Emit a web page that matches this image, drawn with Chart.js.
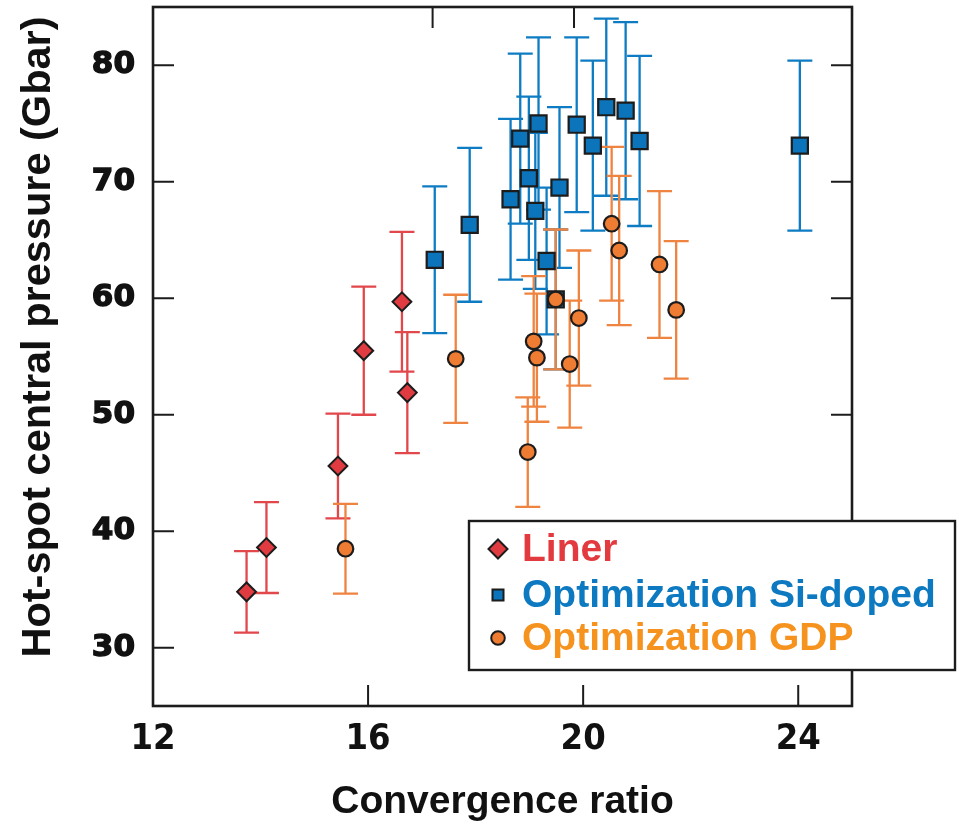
<!DOCTYPE html>
<html>
<head>
<meta charset="utf-8">
<script src="https://cdn.jsdelivr.net/npm/chart.js@4.4.1/dist/chart.umd.min.js"></script>
<style>
  html, body { margin: 0; padding: 0; background: #ffffff; }
  #wrap { width: 959px; height: 829px; }
</style>
</head>
<body>
<div id="wrap"><canvas id="chart" width="959" height="829"></canvas></div>
<script>
// Convergence ratio (x), hot-spot central pressure in Gbar (y) and its uncertainty
const linerCR   = [13.74, 14.11, 15.44, 15.92, 16.63, 16.73];
const linerP    = [34.8, 38.6, 45.6, 55.5, 59.7, 51.9];
const linerErr  = [3.5, 3.9, 4.5, 5.5, 6.0, 5.2];

const siCR  = [17.24, 17.89, 18.65, 18.83, 18.99, 19.11, 19.17, 19.32, 19.49, 19.56, 19.88, 20.18, 20.43, 20.79, 21.05, 24.03];
const siP   = [63.3, 66.3, 68.5, 73.7, 70.3, 67.5, 75.0, 63.2, 59.9, 69.5, 74.9, 73.1, 76.4, 76.1, 73.5, 73.1];
const siErr = [6.3, 6.6, 6.9, 7.3, 7.0, 6.7, 7.4, 6.3, 6.0, 6.9, 7.5, 7.3, 7.6, 7.6, 7.3, 7.3];

const gdpCR  = [15.58, 17.63, 18.97, 19.08, 19.14, 19.49, 19.75, 19.92, 20.53, 20.67, 21.42, 21.73];
const gdpP   = [38.5, 54.8, 46.8, 56.3, 54.9, 59.9, 54.35, 58.3, 66.4, 64.1, 62.9, 59.0];
const gdpErr = [3.85, 5.5, 4.7, 5.6, 5.5, 6.0, 5.45, 5.8, 6.6, 6.4, 6.3, 5.9];

const xTicks = [12, 16, 20, 24];
const xTopTicks = [17.2, 19.83];
const yTicks = [30, 40, 50, 60, 70, 80];

const seriesNames = ['Liner', 'Optimization Si-doped', 'Optimization GDP'];
const xTitle = 'Convergence ratio';
const yTitle = 'Hot-spot central pressure (Gbar)';

const toPoints = (xs, ys) => xs.map((v, i) => ({ x: v, y: ys[i] }));

const INK = '#1c1c1c';
const HEAVY = '"DejaVu Sans", sans-serif';
const NARROW = '"Liberation Sans Narrow", "DejaVu Sans Condensed", sans-serif';
const SANS = '"Liberation Sans", Arial, sans-serif';

// Vertical error bars with caps, drawn under the markers
const errorBars = {
  id: 'errorBars',
  beforeDatasetsDraw(chart) {
    const { ctx, scales: { x, y } } = chart;
    ctx.save();
    ctx.lineWidth = 2.3;
    ctx.lineCap = 'butt';
    chart.data.datasets.forEach(ds => {
      ctx.strokeStyle = ds.errorColor;
      ds.data.forEach((p, i) => {
        const px = x.getPixelForValue(p.x);
        const hi = y.getPixelForValue(p.y + ds.errors[i]);
        const lo = y.getPixelForValue(p.y - ds.errors[i]);
        const cap = 12.5;
        ctx.beginPath();
        ctx.moveTo(px, hi); ctx.lineTo(px, lo);
        ctx.moveTo(px - cap, hi); ctx.lineTo(px + cap, hi);
        ctx.moveTo(px - cap, lo); ctx.lineTo(px + cap, lo);
        ctx.stroke();
      });
    });
    ctx.restore();
  }
};

// Box frame with inward ticks on all four sides, plus the rotated y title
const frame = {
  id: 'frame',
  afterDatasetsDraw(chart) {
    const { ctx, chartArea: a, scales: { x, y } } = chart;
    const len = 21;
    ctx.save();
    ctx.strokeStyle = INK;
    ctx.lineWidth = 2;
    ctx.beginPath();
    xTicks.forEach(v => {
      const px = x.getPixelForValue(v);
      ctx.moveTo(px, a.bottom); ctx.lineTo(px, a.bottom - len);
    });
    xTopTicks.forEach(v => {
      const px = x.getPixelForValue(v);
      ctx.moveTo(px, a.top); ctx.lineTo(px, a.top + len);
    });
    yTicks.forEach(v => {
      const py = y.getPixelForValue(v);
      ctx.moveTo(a.left, py); ctx.lineTo(a.left + len, py);
      ctx.moveTo(a.right, py); ctx.lineTo(a.right - len, py);
    });
    ctx.stroke();
    ctx.lineWidth = 2.6;
    ctx.strokeRect(a.left, a.top, a.right - a.left, a.bottom - a.top);

    ctx.translate(39, 337);
    ctx.rotate(-Math.PI / 2);
    ctx.fillStyle = '#111111';
    ctx.font = 'bold 41.5px ' + SANS;
    ctx.textAlign = 'center';
    ctx.textBaseline = 'middle';
    ctx.fillText(yTitle, 0, 0);
    ctx.restore();
  }
};

// Boxed legend in the lower right, overlapping the frame
const boxLegend = {
  id: 'boxLegend',
  afterDraw(chart) {
    const { ctx } = chart;
    const box = { l: 469, t: 521, r: 955, b: 670 };
    ctx.save();
    ctx.fillStyle = '#ffffff';
    ctx.fillRect(box.l, box.t, box.r - box.l, box.b - box.t);
    ctx.strokeStyle = INK;
    ctx.lineWidth = 2.4;
    ctx.strokeRect(box.l, box.t, box.r - box.l, box.b - box.t);
    const rows = [549, 595, 638];
    const sizes = [9.5, 7.8, 6.8];
    chart.data.datasets.forEach((ds, i) => {
      ctx.fillStyle = ds.backgroundColor;
      ctx.strokeStyle = INK;
      ctx.lineWidth = 2;
      Chart.helpers.drawPoint(ctx, {
        pointStyle: ds.pointStyle, rotation: 0, radius: sizes[i], borderWidth: 2
      }, 498, rows[i]);
      ctx.fillStyle = ds.labelColor;
      ctx.font = 'bold 39px ' + SANS;
      ctx.textAlign = 'left';
      ctx.textBaseline = 'middle';
      ctx.fillText(ds.label, 522, rows[i] + 1);
    });
    ctx.restore();
  }
};

new Chart(document.getElementById('chart'), {
  type: 'scatter',
  data: {
    datasets: [
      {
        label: seriesNames[0],
        data: toPoints(linerCR, linerP),
        errors: linerErr,
        pointStyle: 'rectRot',
        radius: 9.4,
        backgroundColor: '#E03B40',
        borderColor: INK,
        borderWidth: 2,
        errorColor: '#E2474C',
        labelColor: '#E23A3F',
        order: 2
      },
      {
        label: seriesNames[1],
        data: toPoints(siCR, siP),
        errors: siErr,
        pointStyle: 'rect',
        radius: 11.4,
        backgroundColor: '#0B74BA',
        borderColor: INK,
        borderWidth: 2.2,
        errorColor: '#0E7CC3',
        labelColor: '#0C79C0',
        order: 1
      },
      {
        label: seriesNames[2],
        data: toPoints(gdpCR, gdpP),
        errors: gdpErr,
        pointStyle: 'circle',
        radius: 7.8,
        backgroundColor: '#EE7C33',
        borderColor: INK,
        borderWidth: 2.2,
        errorColor: '#EF8340',
        labelColor: '#F6921E',
        order: 0
      }
    ]
  },
  options: {
    responsive: false,
    animation: false,
    devicePixelRatio: 1,
    layout: { autoPadding: false, padding: { top: 7, right: 107, left: 0, bottom: 0 } },
    plugins: {
      legend: { display: false },
      tooltip: { enabled: false }
    },
    elements: { point: { hoverRadius: 8 } },
    scales: {
      x: {
        type: 'linear',
        min: 12,
        max: 25,
        afterBuildTicks(s) { s.ticks = xTicks.map(v => ({ value: v })); },
        afterFit(s) { s.height = 123; s.paddingLeft = 0; s.paddingRight = 0; },
        ticks: {
          autoSkip: false,
          maxRotation: 0,
          padding: 16,
          color: '#111111',
          font: { family: NARROW, size: 36, weight: 'bold', lineHeight: 1 }
        },
        grid: { display: false, drawTicks: false },
        border: { display: false },
        title: {
          display: true,
          text: xTitle,
          color: '#111111',
          font: { family: SANS, size: 39, weight: 'bold', lineHeight: 1 },
          padding: { top: 0, bottom: 7 }
        }
      },
      y: {
        type: 'linear',
        min: 25,
        max: 85,
        afterBuildTicks(s) { s.ticks = yTicks.map(v => ({ value: v })); },
        afterFit(s) { s.width = 153; s.paddingTop = 0; s.paddingBottom = 0; },
        ticks: {
          padding: 18,
          color: '#111111',
          textStrokeColor: '#111111',
          textStrokeWidth: 1.4,
          font: { family: HEAVY, size: 31, weight: 'bold', lineHeight: 1 }
        },
        grid: { display: false, drawTicks: false },
        border: { display: false },
        title: { display: false }
      }
    }
  },
  plugins: [errorBars, frame, boxLegend]
});
</script>
</body>
</html>
